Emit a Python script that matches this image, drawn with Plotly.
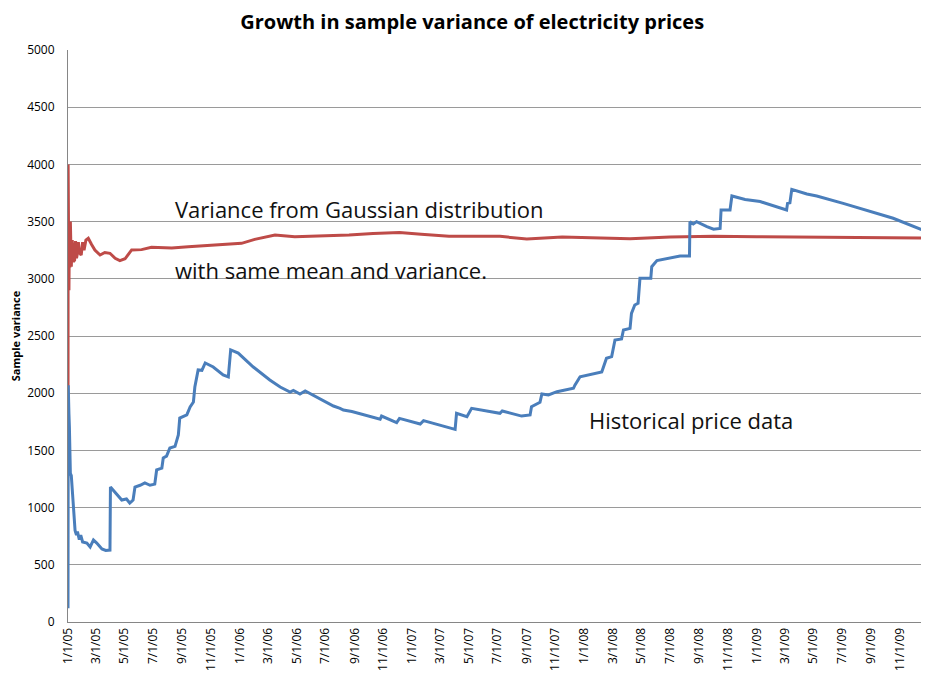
import plotly.graph_objects as go

# ---- Data ----
blue_dates = [
    "2005-01-01 00:00", "2005-01-01 12:00", "2005-01-03", "2005-01-04", "2005-01-06",
    "2005-01-08", "2005-01-12", "2005-01-16", "2005-01-19", "2005-01-21",
    "2005-01-25", "2005-01-28", "2005-02-01", "2005-02-10", "2005-02-17",
    "2005-02-24", "2005-03-03", "2005-03-14", "2005-03-22", "2005-03-31",
    "2005-04-01", "2005-04-10", "2005-04-25", "2005-05-05", "2005-05-12",
    "2005-05-19", "2005-05-23", "2005-06-03", "2005-06-13", "2005-06-24",
    "2005-07-04", "2005-07-08", "2005-07-19", "2005-07-22", "2005-07-29",
    "2005-08-05", "2005-08-16", "2005-08-23", "2005-08-26", "2005-09-10",
    "2005-09-17", "2005-09-24", "2005-09-27", "2005-10-04", "2005-10-12",
    "2005-10-19", "2005-11-05", "2005-11-26", "2005-12-07", "2005-12-12",
    "2005-12-28", "2006-01-29", "2006-03-05", "2006-03-27", "2006-04-17",
    "2006-04-24", "2006-05-08", "2006-05-19", "2006-06-13", "2006-07-18",
    "2006-08-01", "2006-08-08", "2006-08-26", "2006-09-13", "2006-10-25",
    "2006-10-28", "2006-11-29", "2006-12-05", "2007-01-18", "2007-01-25",
    "2007-03-01", "2007-04-02", "2007-04-05", "2007-04-27", "2007-05-07",
    "2007-07-06", "2007-07-11", "2007-08-21", "2007-09-08", "2007-09-11",
    "2007-09-29", "2007-10-03", "2007-10-17", "2007-11-04", "2007-12-09",
    "2007-12-12", "2007-12-23", "2008-01-27", "2008-02-07", "2008-02-17",
    "2008-02-28", "2008-03-06", "2008-03-20", "2008-03-24", "2008-04-07",
    "2008-04-10", "2008-04-17", "2008-04-24", "2008-04-28", "2008-05-21",
    "2008-05-23", "2008-06-03", "2008-06-24", "2008-07-22", "2008-08-11",
    "2008-08-12", "2008-08-19", "2008-08-26", "2008-09-17", "2008-10-01",
    "2008-10-15", "2008-10-17", "2008-11-05", "2008-11-09", "2008-12-07",
    "2009-01-08", "2009-03-05", "2009-03-07", "2009-03-12", "2009-03-16",
    "2009-04-17", "2009-05-08", "2009-07-03", "2009-10-17", "2010-01-01",
]
blue_values = [
    120, 2070, 1820, 1700, 1300,
    1280, 1000, 800, 760, 790,
    720, 760, 700, 690, 656,
    717, 690, 638, 625, 629,
    1180, 1140, 1066, 1075, 1040,
    1066, 1180, 1195, 1215, 1195,
    1205, 1329, 1345, 1434, 1450,
    1521, 1535, 1635, 1783, 1810,
    1880, 1923, 2054, 2203, 2200,
    2264, 2229, 2159, 2142, 2378,
    2351, 2229, 2115, 2054, 2010,
    2025, 1993, 2019, 1967, 1888,
    1868, 1853, 1840, 1818, 1772,
    1800, 1743, 1780, 1731, 1760,
    1722, 1684, 1824, 1795, 1868,
    1824, 1845, 1800, 1810, 1882,
    1920, 1993, 1985, 2013, 2043,
    2070, 2144, 2174, 2185, 2305,
    2320, 2465, 2475, 2552, 2567,
    2698, 2771, 2785, 3004, 3004,
    3106, 3159, 3179, 3199, 3199,
    3499, 3480, 3499, 3456, 3433,
    3440, 3601, 3601, 3724, 3694,
    3675, 3601, 3659, 3665, 3782,
    3741, 3724, 3659, 3529, 3403,
]

red_dates = [
    "2005-01-01 00:00", "2005-01-01 06:00", "2005-01-01 12:00", "2005-01-02", "2005-01-03",
    "2005-01-04", "2005-01-05", "2005-01-06", "2005-01-08", "2005-01-10",
    "2005-01-12", "2005-01-15", "2005-01-17", "2005-01-19", "2005-01-21",
    "2005-01-23", "2005-01-25", "2005-01-29", "2005-02-01", "2005-02-04",
    "2005-02-08", "2005-02-13", "2005-02-20", "2005-02-27", "2005-03-10",
    "2005-03-20", "2005-03-31", "2005-04-11", "2005-04-21", "2005-05-02",
    "2005-05-16", "2005-06-06", "2005-06-27", "2005-08-09", "2005-09-13",
    "2005-11-01", "2006-01-04", "2006-02-01", "2006-03-16", "2006-04-27",
    "2006-06-01", "2006-07-10", "2006-08-20", "2006-10-10", "2006-12-05",
    "2007-01-20", "2007-03-20", "2007-07-06", "2007-09-01", "2007-11-15",
    "2008-02-01", "2008-04-07", "2008-07-01", "2008-10-01", "2009-01-01",
    "2009-05-01", "2009-09-01", "2010-01-01",
]
red_values = [
    1300, 4000, 2600, 3500, 2900,
    3450, 3100, 3500, 3106, 3339,
    3150, 3164, 3330, 3180, 3223,
    3320, 3230, 3208, 3320, 3250,
    3339, 3354, 3300, 3252, 3208,
    3230, 3223, 3179, 3159, 3175,
    3252, 3255, 3275, 3270, 3281,
    3295, 3310, 3345, 3383, 3368,
    3372, 3380, 3383, 3397, 3405,
    3390, 3371, 3371, 3348, 3365,
    3360, 3350, 3365, 3372, 3368,
    3362, 3358, 3356,
]

tick_dates = [
    "2005-01-01", "2005-03-01", "2005-05-01", "2005-07-01", "2005-09-01", "2005-11-01",
    "2006-01-01", "2006-03-01", "2006-05-01", "2006-07-01", "2006-09-01", "2006-11-01",
    "2007-01-01", "2007-03-01", "2007-05-01", "2007-07-01", "2007-09-01", "2007-11-01",
    "2008-01-01", "2008-03-01", "2008-05-01", "2008-07-01", "2008-09-01", "2008-11-01",
    "2009-01-01", "2009-03-01", "2009-05-01", "2009-07-01", "2009-09-01", "2009-11-01",
]
tick_labels = [
    "1/1/05", "3/1/05", "5/1/05", "7/1/05", "9/1/05", "11/1/05",
    "1/1/06", "3/1/06", "5/1/06", "7/1/06", "9/1/06", "11/1/06",
    "1/1/07", "3/1/07", "5/1/07", "7/1/07", "9/1/07", "11/1/07",
    "1/1/08", "3/1/08", "5/1/08", "7/1/08", "9/1/08", "11/1/08",
    "1/1/09", "3/1/09", "5/1/09", "7/1/09", "9/1/09", "11/1/09",
]

FONT = "Open Sans"

fig = go.Figure()
fig.add_trace(go.Scatter(
    x=red_dates, y=red_values, mode="lines",
    line=dict(color="#BE4B48", width=3), name="Gaussian", hoverinfo="skip",
))
fig.add_trace(go.Scatter(
    x=blue_dates, y=blue_values, mode="lines",
    line=dict(color="#4A7EBB", width=3), name="Historical", hoverinfo="skip",
))

# The page body adds an 8px offset; the figure is sized to compensate.
fig.update_layout(
    width=921, height=667,
    paper_bgcolor="white", plot_bgcolor="white",
    showlegend=False,
    margin=dict(l=60, r=0, t=42, b=53),
    title=dict(
        text="<b>Growth in sample variance of electricity prices</b>",
        x=0.504, xanchor="center", y=0.990, yanchor="top",
        font=dict(family=FONT, size=20, color="#000000"),
    ),
    font=dict(family=FONT, color="#000000"),
)
fig.update_xaxes(
    type="date",
    range=["2005-01-01", "2010-01-01"],
    tickmode="array", tickvals=tick_dates, ticktext=tick_labels,
    tickangle=-90, tickfont=dict(family=FONT, size=12, color="#000000"),
    showgrid=False, showline=True, linecolor="#868686", linewidth=1,
    ticks="", automargin=False, zeroline=False,
)
fig.update_yaxes(
    range=[0, 5000], tickmode="linear", tick0=0, dtick=500,
    tickfont=dict(family=FONT, size=12, color="#000000"),
    ticklabelstandoff=10,
    showgrid=True, gridcolor="#9A9A9A", gridwidth=1,
    showline=True, linecolor="#868686", linewidth=1,
    zeroline=False, ticks="", automargin=False,
    title=dict(text="<b>Sample variance</b>", font=dict(family=FONT, size=11, color="#000000"), standoff=6),
)

ann_font = dict(family=FONT, size=22, color="#111111")
fig.add_annotation(x="2005-08-11", y=3610, text="Variance from Gaussian distribution",
                   showarrow=False, xanchor="left", yanchor="middle", font=ann_font)
fig.add_annotation(x="2005-08-11", y=3077, text="with same mean and variance.",
                   showarrow=False, xanchor="left", yanchor="middle", font=ann_font)
fig.add_annotation(x="2008-01-06", y=1766, text="Historical price data",
                   showarrow=False, xanchor="left", yanchor="middle", font=ann_font)

fig.write_html("out.html")
